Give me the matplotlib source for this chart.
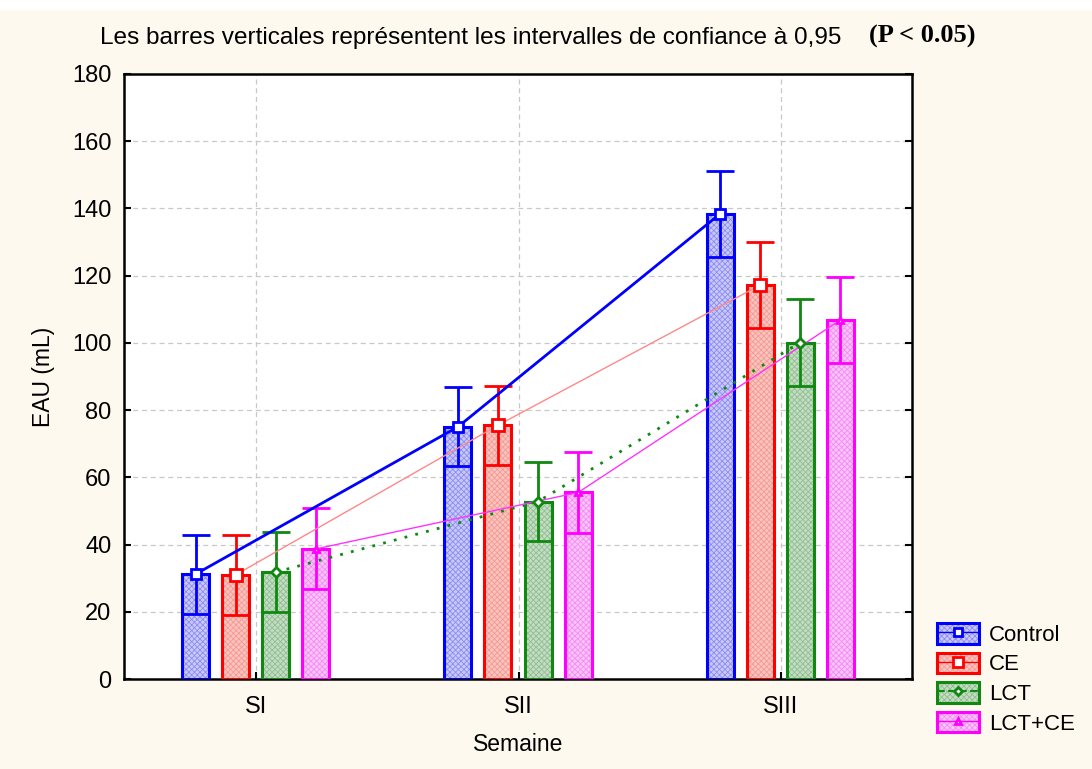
import matplotlib
matplotlib.use("Agg")
import matplotlib.pyplot as plt
from matplotlib.patches import Patch, Rectangle
from matplotlib.lines import Line2D
from matplotlib.legend_handler import HandlerTuple
import numpy as np

plt.rcParams['font.family'] = ['Liberation Sans', 'DejaVu Sans']
plt.rcParams['hatch.linewidth'] = 0.6

categories = ["SI", "SII", "SIII"]
groups = ["Control", "CE", "LCT", "LCT+CE"]
control_mean = [31.2, 75.0, 138.4]
control_low = [19.3, 63.4, 125.6]
control_high = [42.8, 87.0, 151.0]
ce_mean = [31.0, 75.5, 117.2]
ce_low = [19.0, 63.7, 104.3]
ce_high = [42.8, 87.3, 130.1]
lct_mean = [31.8, 52.8, 100.1]
lct_low = [19.8, 41.0, 87.2]
lct_high = [43.6, 64.6, 113.0]
lctce_mean = [38.7, 55.5, 106.8]
lctce_low = [26.8, 43.5, 94.0]
lctce_high = [51.0, 67.5, 119.7]
yticks = [0, 20, 40, 60, 80, 100, 120, 140, 160, 180]

means = [control_mean, ce_mean, lct_mean, lctce_mean]
lows = [control_low, ce_low, lct_low, lctce_low]
highs = [control_high, ce_high, lct_high, lctce_high]

colors = ["#0000FF", "#FF0000", "#118811", "#FF00FF"]
fills = ["#c9c9f7", "#f9c4c0", "#c4dcc4", "#fbc4fb"]
hatchc = ["#8c8cf2", "#f59a92", "#8fbf8f", "#f38cf3"]
line_colors = ["#0000FF", "#FF8888", "#118811", "#FF33FF"]
line_widths = [2.0, 1.0, 2.0, 1.0]
line_styles = ["-", "-", (0, (1, 3)), "-"]
markers = ["s", "s", "D", "^"]
msizes = [7, 8, 5, 5]

bg = "#fdf9ee"
fig = plt.figure(figsize=(10.92, 7.69), dpi=100, facecolor=bg)
fig.patches.append(Rectangle((0, 1 - 10 / 769), 1, 10 / 769, transform=fig.transFigure,
                             facecolor="white", edgecolor="none", zorder=0))
ax = fig.add_axes([124 / 1092, 1 - 679 / 769, 788 / 1092, 605 / 769])
ax.set_facecolor("white")

x = np.arange(len(categories))
offsets = [-0.232, -0.079, 0.074, 0.227]
width = 0.103

for i in range(4):
    xs = x + offsets[i]
    m = np.array(means[i])
    lo = np.array(lows[i])
    hi = np.array(highs[i])
    ax.bar(xs, m, width=width, color=fills[i], edgecolor=hatchc[i], hatch="xxxxxx",
           linewidth=0, zorder=2)
    ax.bar(xs, m, width=width, facecolor="none", edgecolor=colors[i], linewidth=2.2, zorder=3)
    ax.errorbar(xs, m, yerr=[m - lo, hi - m], fmt="none", ecolor=colors[i],
                elinewidth=2.0, capsize=9.8, capthick=2.0, zorder=4)

for i in range(4):
    xs = x + offsets[i]
    ax.plot(xs, means[i], color=line_colors[i], lw=line_widths[i], ls=line_styles[i], zorder=5)
    ax.plot(xs, means[i], ls="none", marker=markers[i], ms=msizes[i], mfc="white",
            mec=colors[i], mew=2.0, zorder=6)

ax.set_xlim(-0.505, 2.5)
ax.set_ylim(0, 180)
ax.set_yticks(yticks)
ax.set_xticks(x)
ax.set_xticklabels(categories)
ax.grid(True, color="#c8c8c8", ls=(0, (4, 3)), lw=0.9, zorder=0)
ax.set_axisbelow(True)
ax.tick_params(axis="both", direction="in", length=5, width=1.5, labelsize=17,
               right=True, top=False)
ax.tick_params(axis="y", pad=9)
ax.tick_params(axis="x", pad=12)
for s in ax.spines.values():
    s.set_linewidth(1.8)
    s.set_color("black")

ax.set_ylabel("EAU (mL)", fontsize=16.5, labelpad=12)
ax.set_xlabel("Semaine", fontsize=16.5, labelpad=11)

fig.text(100 / 1092, 1 - 38 / 769, "Les barres verticales représentent les intervalles de confiance à 0,95",
         fontsize=17.6, ha="left", va="center")
fig.text(869 / 1092, 1 - 36 / 769, "(P < 0.05)", fontsize=19, fontweight="bold",
         ha="left", va="center", family="Liberation Serif")

handles = []
for i in range(4):
    p1 = Patch(facecolor=fills[i], edgecolor=hatchc[i], hatch="xxxxxx", linewidth=0)
    p2 = Patch(facecolor="none", edgecolor=colors[i], linewidth=2.2)
    ln = Line2D([], [], color=colors[i], lw=1.0 if i != 2 else 1.5,
                ls="-" if i != 2 else "--", marker=markers[i], ms=msizes[i] - 1,
                mfc="white", mec=colors[i], mew=2.0)
    handles.append((p1, p2, ln))

fig.legend(handles, groups, loc="upper left", bbox_to_anchor=(937 / 1092, 1 - 623 / 769),
           frameon=False, fontsize=16, handlelength=1.9, handleheight=1.05,
           handletextpad=0.45, labelspacing=0.3, borderaxespad=0, borderpad=0,
           handler_map={tuple: HandlerTuple(ndivide=1, pad=0)})

fig.savefig("out.png", dpi=100, facecolor=bg)
